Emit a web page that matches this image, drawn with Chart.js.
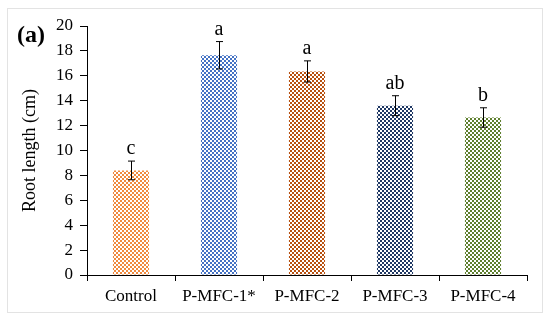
<!DOCTYPE html>
<html>
<head>
<meta charset="utf-8">
<script src="https://cdn.jsdelivr.net/npm/chart.js@4.4.1/dist/chart.umd.min.js"></script>
<style>
  html, body { margin: 0; padding: 0; background: #fff; }
  #wrap { width: 550px; height: 320px; position: relative; }
</style>
</head>
<body>
<div id="wrap"><canvas id="rootChart" width="550" height="320"></canvas></div>
<script>
// --- Data ---
const categories = ['Control', 'P-MFC-1*', 'P-MFC-2', 'P-MFC-3', 'P-MFC-4'];
const rootLength = [8.4, 17.65, 16.35, 13.6, 12.65];
const errors = [0.75, 1.1, 0.85, 0.8, 0.78];
const letters = ['c', 'a', 'a', 'ab', 'b'];
const yTicks = [0, 2, 4, 6, 8, 10, 12, 14, 16, 18, 20];
const barColors = ['#F08A3E', '#4472C4', '#B8500F', '#1F3864', '#5E7F2E'];

const SERIF = '"Liberation Serif", "Times New Roman", serif';

// small checkerboard fill like the Excel pattern
function checker(color) {
    const c = document.createElement('canvas');
    c.width = 4; c.height = 4;
    const g = c.getContext('2d');
    g.fillStyle = '#fff';
    g.fillRect(0, 0, 4, 4);
    g.fillStyle = color;
    g.fillRect(0, 0, 2, 2);
    g.fillRect(2, 2, 2, 2);
    return g.createPattern(c, 'repeat');
}

// --- Plugins ---
const frame = {
    id: 'frame',
    beforeDraw(chart) {
        const ctx = chart.ctx;
        ctx.save();
        ctx.fillStyle = '#fff';
        ctx.fillRect(0, 0, chart.width, chart.height);
        ctx.strokeStyle = '#e3e3e3';
        ctx.lineWidth = 1;
        ctx.strokeRect(7.5, 8.5, 535, 304);
        ctx.restore();
    }
};

const errorBars = {
    id: 'errorBars',
    afterDatasetsDraw(chart) {
        const ctx = chart.ctx;
        const y = chart.scales.y;
        const meta = chart.getDatasetMeta(0);
        ctx.save();
        ctx.strokeStyle = '#000';
        ctx.lineWidth = 1;
        ctx.fillStyle = '#000';
        ctx.font = '20px ' + SERIF;
        ctx.textAlign = 'center';
        ctx.textBaseline = 'alphabetic';
        meta.data.forEach((bar, i) => {
            const x = Math.round(bar.x) + 0.5;
            const top = y.getPixelForValue(rootLength[i] + errors[i]);
            const bot = y.getPixelForValue(rootLength[i] - errors[i]);
            ctx.beginPath();
            ctx.moveTo(x, top); ctx.lineTo(x, bot);
            ctx.moveTo(x - 3.5, top); ctx.lineTo(x + 3.5, top);
            ctx.moveTo(x - 3.5, bot); ctx.lineTo(x + 3.5, bot);
            ctx.stroke();
            ctx.fillText(letters[i], bar.x, top - 7);
        });
        // panel tag
        ctx.font = 'bold 24px ' + SERIF;
        ctx.textAlign = 'left';
        ctx.fillText('(a)', 17, 42);
        ctx.restore();
    }
};

// --- Chart ---
new Chart(document.getElementById('rootChart'), {
    type: 'bar',
    data: {
        labels: categories,
        datasets: [{
            data: rootLength,
            backgroundColor: barColors.map(checker),
            borderWidth: 0,
            categoryPercentage: 1,
            barPercentage: 0.41
        }]
    },
    options: {
        responsive: false,
        animation: false,
        layout: { padding: { left: 0, right: 23, top: 26, bottom: 0 } },
        plugins: { legend: { display: false }, tooltip: { enabled: false } },
        scales: {
            x: {
                grid: { offset: true, drawOnChartArea: false, tickLength: 6, color: '#000' },
                border: { color: '#000', width: 1 },
                ticks: { color: '#000', font: { family: SERIF, size: 17 }, padding: 5, maxRotation: 0 },
                afterFit: (scale) => { scale.height = 45; }
            },
            y: {
                min: 0,
                max: 20,
                afterBuildTicks: (scale) => { scale.ticks = yTicks.map(v => ({ value: v })); },
                grid: { drawOnChartArea: false, tickLength: 7, color: '#000' },
                border: { color: '#000', width: 1 },
                ticks: { color: '#000', font: { family: SERIF, size: 17 }, padding: 7 },
                title: {
                    display: true,
                    text: 'Root length (cm)',
                    color: '#000',
                    font: { family: SERIF, size: 18 },
                    padding: { top: 19, bottom: 0 }
                },
                afterFit: (scale) => { scale.width = 87; }
            }
        }
    },
    plugins: [frame, errorBars]
});
</script>
</body>
</html>
